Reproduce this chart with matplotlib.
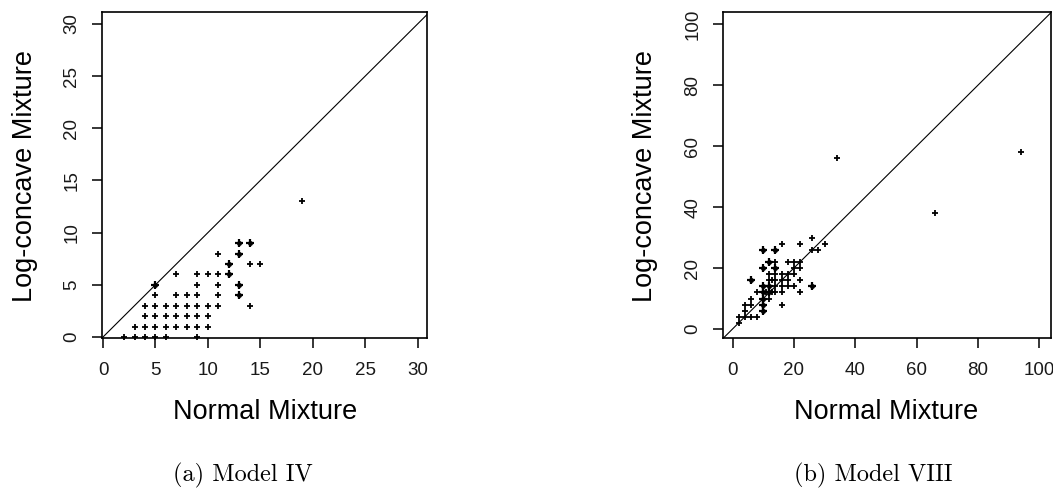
import matplotlib
matplotlib.use("Agg")
import matplotlib.pyplot as plt

# ---------------- data ----------------
# Model IV (left): Normal Mixture vs Log-concave Mixture; n = overlapping runs
left_x = [2, 3, 4, 5, 6, 9,
          3, 4, 5, 6, 7, 8, 9, 10,
          4, 5, 6, 7, 8, 9, 10,
          4, 5, 6, 7, 8, 9, 10, 11, 14,
          5, 7, 8, 9, 11, 13,
          5, 9, 11, 13,
          7, 9, 10, 11, 12,
          12, 14, 15,
          11, 13,
          13, 14,
          19]
left_y = [0, 0, 0, 0, 0, 0,
          1, 1, 1, 1, 1, 1, 1, 1,
          2, 2, 2, 2, 2, 2, 2,
          3, 3, 3, 3, 3, 3, 3, 3, 3,
          4, 4, 4, 4, 4, 4,
          5, 5, 5, 5,
          6, 6, 6, 6, 6,
          7, 7, 7,
          8, 8,
          9, 9,
          13]
left_n = [1, 1, 1, 1, 1, 1,
          1, 1, 1, 1, 1, 1, 1, 1,
          1, 1, 1, 1, 1, 1, 1,
          1, 1, 1, 1, 1, 1, 1, 1, 1,
          1, 1, 1, 1, 1, 2,
          2, 1, 1, 2,
          1, 1, 1, 1, 2,
          2, 1, 1,
          1, 2,
          2, 2,
          1]

# Model VIII (right)
right_x = [2, 2, 4, 6, 8,
           4, 10,
           4, 6, 10, 16,
           6, 10, 12,
           8, 10, 11, 12, 13, 14, 16, 22,
           10, 12, 14, 16, 18, 20, 26,
           6, 12, 13, 14, 16, 18, 22,
           12, 14, 16, 18, 20,
           10, 14, 20, 22,
           12, 14, 18, 20, 22,
           10, 14, 26, 28,
           16, 22, 30,
           26,
           34, 66, 94]
right_y = [2, 4, 4, 4, 4,
           6, 6,
           8, 8, 8, 8,
           10, 10, 10,
           12, 12, 12, 12, 12, 12, 12, 12,
           14, 14, 14, 14, 14, 14, 14,
           16, 16, 16, 16, 16, 16, 16,
           18, 18, 18, 18, 18,
           20, 20, 20, 20,
           22, 22, 22, 22, 22,
           26, 26, 26, 26,
           28, 28, 28,
           30,
           56, 38, 58]
right_n = [1, 1, 1, 1, 1,
           1, 2,
           1, 1, 2, 1,
           1, 2, 1,
           1, 2, 1, 2, 1, 1, 1, 1,
           2, 2, 1, 1, 1, 1, 2,
           2, 1, 1, 1, 1, 1, 1,
           1, 1, 1, 1, 1,
           2, 2, 1, 1,
           2, 1, 1, 1, 1,
           2, 2, 1, 1,
           1, 1, 1,
           1,
           1, 1, 1]

left_ticks = [0, 5, 10, 15, 20, 25, 30]
right_ticks = [0, 20, 40, 60, 80, 100]

xlabel = "Normal Mixture"
ylabel = "Log-concave Mixture"
captions = ["(a) Model IV", "(b) Model VIII"]

# ---------------- figure ----------------
W, H = 1053, 488
fig = plt.figure(figsize=(W / 100, H / 100), dpi=100)
fig.patch.set_facecolor("white")

sans = ["Liberation Sans", "Arial", "DejaVu Sans"]


def px_box(x0, y0, x1, y1):
    return [x0 / W, (H - y1) / H, (x1 - x0) / W, (y1 - y0) / H]


def panel(rect, xs, ys, ns, ticks, xlim, ylim):
    ax = fig.add_axes(rect)
    ax.set_xlim(*xlim)
    ax.set_ylim(*ylim)
    ax.axline((0, 0), slope=1, color="black", lw=0.8)
    single_x = [x for x, n in zip(xs, ns) if n == 1]
    single_y = [y for y, n in zip(ys, ns) if n == 1]
    multi_x = [x for x, n in zip(xs, ns) if n > 1]
    multi_y = [y for y, n in zip(ys, ns) if n > 1]
    ax.plot(single_x, single_y, ls="none", marker="+", ms=4.6, mew=1.3,
            color="black", clip_on=False, zorder=3)
    ax.plot(multi_x, multi_y, ls="none", marker="+", ms=5.2, mew=1.6,
            color="black", clip_on=False, zorder=3)
    ax.plot(multi_x, multi_y, ls="none", marker="o", ms=3.6, mew=0,
            color="black", clip_on=False, zorder=3)
    ax.set_xticks(ticks)
    ax.set_yticks(ticks)
    ax.set_xticklabels([str(t) for t in ticks], family=sans, fontsize=13.5,
                       color="#1a1a1a")
    ax.set_yticklabels([str(t) for t in ticks], family=sans, fontsize=13.5,
                       color="#1a1a1a", rotation=90, va="center")
    ax.tick_params(axis="both", direction="out", length=7.5, width=1.1,
                   color="black")
    ax.tick_params(axis="x", pad=10)
    ax.tick_params(axis="y", pad=8)
    for s in ax.spines.values():
        s.set_linewidth(1.2)
        s.set_color("black")
    return ax


ax1 = panel(px_box(102, 12, 427, 338), left_x, left_y, left_n, left_ticks,
            (-0.1, 30.9), (-0.1, 31.15))
ax2 = panel(px_box(723, 12, 1051, 338), right_x, right_y, right_n, right_ticks,
            (-3.1, 103.8), (-2.95, 104.0))

# axis titles
for cx, ly in [(265, 25), (886, 645)]:
    fig.text(cx / W, 1 - 412 / H, xlabel, family=sans, fontsize=19.5,
             ha="center", va="center")
    fig.text(ly / W, 1 - 176 / H, ylabel, family=sans, fontsize=19.5,
             ha="center", va="center", rotation=90)

# captions
for cx, cap in zip([243, 873], captions):
    fig.text(cx / W, 1 - 475 / H, cap, family=["cmr10", "DejaVu Serif"],
             fontsize=17.5, ha="center", va="center")

fig.savefig("out.png", dpi=100, facecolor="white")
